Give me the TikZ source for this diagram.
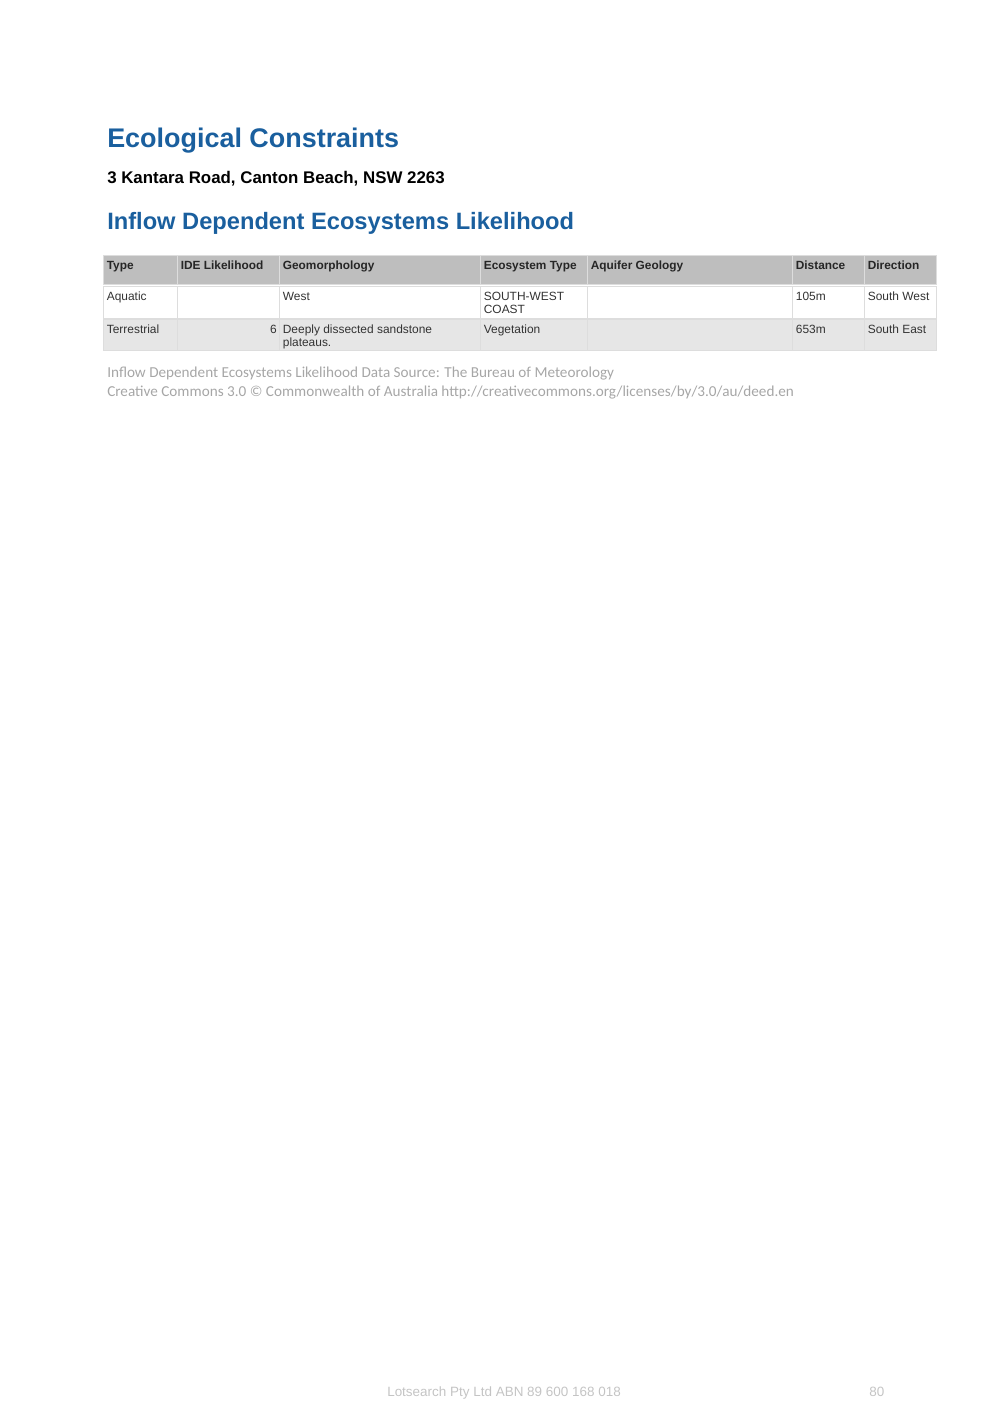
\documentclass[tikz,border=0pt]{standalone}
\usepackage{fontspec}
\setmainfont{Liberation Sans}
\newfontfamily\captionfont{Carlito}
\usetikzlibrary{positioning}
\definecolor{titleblue}{HTML}{1A5F9E}
\definecolor{headgray}{HTML}{BEBEBE}
\definecolor{rowgray}{HTML}{E6E6E6}
\definecolor{cellline}{HTML}{DDDDDD}
\definecolor{bodyink}{HTML}{333333}
\definecolor{captionink}{HTML}{A6A6A6}
\definecolor{footink}{HTML}{C4C4C4}
\tikzset{
    pagetext/.style={inner sep=0pt,anchor=base west},
    bigtitle/.style={pagetext,text=titleblue,font=\bfseries\fontsize{20.2}{24}\selectfont},
    subtitle/.style={pagetext,text=titleblue,font=\bfseries\fontsize{17.75}{22}\selectfont},
    address/.style={pagetext,text=black,font=\bfseries\fontsize{12.65}{15}\selectfont},
    source/.style={pagetext,text=captionink,font=\captionfont\fontsize{11.4}{13}\selectfont},
    foot/.style={pagetext,text=footink,font=\fontsize{10.1}{12}\selectfont},
    cell/.style={draw=cellline,line width=0.75pt,inner sep=0pt,anchor=north west},
    headcell/.style={cell,fill=headgray,minimum height=21.75pt},
    whitecell/.style={cell,fill=white,minimum height=24pt},
    graycell/.style={cell,fill=rowgray,minimum height=23.25pt},
    celltext/.style={inner sep=0pt,anchor=north west,align=left,xshift=2.7pt,yshift=-4.2pt,
        text=bodyink,font=\fontsize{8.95}{9.8}\selectfont},
    headtext/.style={celltext,text=black!85,font=\bfseries\fontsize{8.9}{10}\selectfont},
}
\begin{document}
\begin{tikzpicture}[x=0.75pt,y=-0.75pt]
    \useasboundingbox (0,0) rectangle (1005,1420);

    \node[bigtitle] (title) at (107,147) {Ecological Constraints};
    \node[address] (addr) at (107,183) {3 Kantara Road, Canton Beach, NSW 2263};
    \node[subtitle] (sub) at (107,229) {Inflow Dependent Ecosystems Likelihood};

    % header row
    \node[headcell,minimum width=55.5pt] (h1) at (103,255) {};
    \node[headcell,minimum width=76.5pt] (h2) at (177,255) {};
    \node[headcell,minimum width=150.75pt] (h3) at (279,255) {};
    \node[headcell,minimum width=80.25pt] (h4) at (480,255) {};
    \node[headcell,minimum width=153.75pt] (h5) at (587,255) {};
    \node[headcell,minimum width=54pt] (h6) at (792,255) {};
    \node[headcell,minimum width=54pt] (h7) at (864,255) {};

    % aquatic row
    \node[whitecell,minimum width=55.5pt] (a1) at (103,286) {};
    \node[whitecell,minimum width=76.5pt] (a2) at (177,286) {};
    \node[whitecell,minimum width=150.75pt] (a3) at (279,286) {};
    \node[whitecell,minimum width=80.25pt] (a4) at (480,286) {};
    \node[whitecell,minimum width=153.75pt] (a5) at (587,286) {};
    \node[whitecell,minimum width=54pt] (a6) at (792,286) {};
    \node[whitecell,minimum width=54pt] (a7) at (864,286) {};

    % terrestrial row
    \node[graycell,minimum width=55.5pt] (t1) at (103,319) {};
    \node[graycell,minimum width=76.5pt] (t2) at (177,319) {};
    \node[graycell,minimum width=150.75pt] (t3) at (279,319) {};
    \node[graycell,minimum width=80.25pt] (t4) at (480,319) {};
    \node[graycell,minimum width=153.75pt] (t5) at (587,319) {};
    \node[graycell,minimum width=54pt] (t6) at (792,319) {};
    \node[graycell,minimum width=54pt] (t7) at (864,319) {};

    \node[headtext] (ht1) at (h1.north west) {Type};
    \node[headtext] (ht2) at (h2.north west) {IDE Likelihood};
    \node[headtext] (ht3) at (h3.north west) {Geomorphology};
    \node[headtext] (ht4) at (h4.north west) {Ecosystem Type};
    \node[headtext] (ht5) at (h5.north west) {Aquifer Geology};
    \node[headtext] (ht6) at (h6.north west) {Distance};
    \node[headtext] (ht7) at (h7.north west) {Direction};

    \node[celltext] (at1) at (a1.north west) {Aquatic};
    \node[celltext] (at3) at (a3.north west) {West};
    \node[celltext] (at4) at (a4.north west) {SOUTH-WEST\\COAST};
    \node[celltext] (at6) at (a6.north west) {105m};
    \node[celltext] (at7) at (a7.north west) {South West};

    \node[celltext] (tt1) at (t1.north west) {Terrestrial};
    \node[celltext,anchor=north east,xshift=-5pt] (tt2) at (t2.north east) {6};
    \node[celltext] (tt3) at (t3.north west) {Deeply dissected sandstone\\plateaus.};
    \node[celltext] (tt4) at (t4.north west) {Vegetation};
    \node[celltext] (tt6) at (t6.north west) {653m};
    \node[celltext] (tt7) at (t7.north west) {South East};

    \node[source] (src1) at (107,377) {Inflow Dependent Ecosystems Likelihood Data Source: The Bureau of Meteorology};
    \node[source] (src2) at (107,396) {Creative Commons 3.0 © Commonwealth of Australia http://creativecommons.org/licenses/by/3.0/au/deed.en};

    \node[foot] (abn) at (387,1396) {Lotsearch Pty Ltd ABN 89 600 168 018};
    \node[foot] (pageno) at (869,1396) {80};
\end{tikzpicture}
\end{document}
